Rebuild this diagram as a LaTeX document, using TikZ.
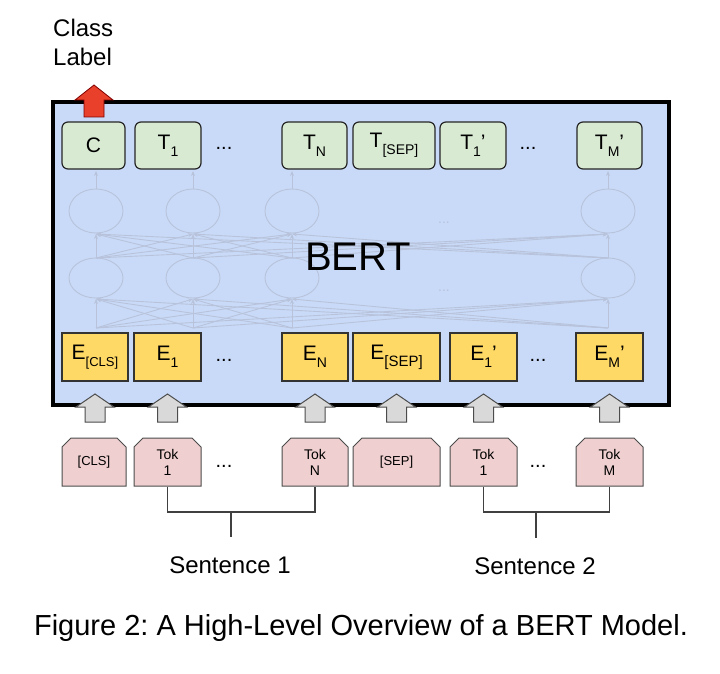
\documentclass[tikz,border=0pt]{standalone}
\usepackage{fontspec}
\setmainfont{Liberation Sans}
\usetikzlibrary{shapes.misc,arrows.meta}
\definecolor{bertblue}{HTML}{C9DAF8}
\definecolor{tgreen}{HTML}{D9EAD3}
\definecolor{eyellow}{HTML}{FFD966}
\definecolor{tokpink}{HTML}{EFCFCF}
\definecolor{netc}{HTML}{B8C3DB}
\definecolor{redarrow}{HTML}{E8402A}
\definecolor{grayfill}{HTML}{D9D9D9}
\frenchspacing
\newcommand\lowsub[2][14]{\raisebox{-7pt}{\fontsize{#1}{#1}\selectfont #2}}
\newcommand\grayup[1]{\draw[grayarrow] (#1-10,422) -- (#1-10,407) -- (#1-19,407) -- (#1,394) -- (#1+19,407) -- (#1+10,407) -- (#1+10,422) -- cycle;}
\begin{document}
\begin{tikzpicture}[x=1pt,y=-1pt,
  tbox/.style={draw=black!85, line width=1.2pt, rounded corners=6pt, fill=tgreen, minimum height=47pt, inner sep=0pt, font=\fontsize{21}{24}\selectfont},
  ebox/.style={draw=black!80, line width=1.1pt, fill=eyellow, minimum height=48pt, inner sep=0pt, font=\fontsize{21}{24}\selectfont},
  tokbox/.style={chamfered rectangle, chamfered rectangle corners={north west,north east}, chamfered rectangle xsep=4.5pt, chamfered rectangle ysep=4.5pt, draw=black!70, line width=1pt, fill=tokpink, minimum height=48pt, inner sep=0pt, align=center, font=\fontsize{14}{16}\selectfont},
  dots/.style={font=\fontsize{20}{20}\selectfont, inner sep=0pt},
  netline/.style={draw=netc, line width=0.9pt},
  netarrow/.style={netline, -{Stealth[length=5pt,width=4pt]}},
  grayarrow/.style={fill=grayfill, draw=black!70, line width=1pt},
  bracket/.style={draw=black!75, line width=1.2pt},
  lbl/.style={font=\fontsize{24}{29}\selectfont, inner sep=0pt}
]
\useasboundingbox (0,0) rectangle (720,674);

% main BERT box
\draw[line width=4pt, fill=bertblue] (53,102) rectangle (669,405);

% faded network
\foreach \i in {96,193,292,608} {
  \draw[netline] (\i,278) ellipse [x radius=27, y radius=20];
  \draw[netline] (\i,211) ellipse [x radius=27, y radius=22];
  \draw[netarrow] (\i,189) -- (\i,171);
  \foreach \j in {96,193,292,608} {
    \draw[netarrow] (\i,328) -- (\j,299);
    \draw[netarrow] (\i,258) -- (\j,234);
  }
}
\node[font=\fontsize{14}{14}\selectfont, text=netc] (nd1) at (444,223) {...};
\node[font=\fontsize{14}{14}\selectfont, text=netc] (nd2) at (444,291) {...};

\node[font=\fontsize{40}{40}\selectfont, inner sep=0pt] (bert) at (358,257) {BERT};

% red class-label arrow
\draw[fill=redarrow, draw=red!50!black, line width=0.8pt] (84,117) -- (84,100) -- (75,100) -- (94,85) -- (113,100) -- (104,100) -- (104,117) -- cycle;
\node[lbl, align=left, anchor=north west] (cls) at (53,19) {Class\\Label};

% top output row
\node[tbox, minimum width=63pt] (c) at (93.5,145.5) {C};
\node[tbox, minimum width=66pt] (t1) at (168,145.5) {T\lowsub{1}};
\node[dots] (td1) at (224,148) {...};
\node[tbox, minimum width=65pt] (tn) at (314.5,145.5) {T\lowsub{N}};
\node[tbox, minimum width=82pt] (tsep) at (394,145.5) {T\lowsub{[SEP]}};
\node[tbox, minimum width=66pt] (t1p) at (473,145.5) {T\lowsub{1}'};
\node[dots] (td2) at (528,148) {...};
\node[tbox, minimum width=65pt] (tmp) at (609.5,145.5) {T\lowsub{M}'};

% embedding row
\node[ebox, minimum width=66pt] (ecls) at (95,357) {E\lowsub[13]{[CLS]}};
\node[ebox, minimum width=67pt] (e1) at (167.5,357) {E\lowsub{1}};
\node[dots] (ed1) at (224,360) {...};
\node[ebox, minimum width=66pt] (en) at (315,357) {E\lowsub{N}};
\node[ebox, minimum width=87pt] (esep) at (396.5,357) {E\lowsub[15]{[SEP]}};
\node[ebox, minimum width=67pt] (e1p) at (483.5,357) {E\lowsub{1}'};
\node[dots] (ed2) at (538,360) {...};
\node[ebox, minimum width=67pt] (emp) at (609.5,357) {E\lowsub{M}'};

% gray input arrows
\grayup{95}
\grayup{167.5}
\grayup{315}
\grayup{396.5}
\grayup{483.5}
\grayup{609.5}

% token row
\node[tokbox, minimum width=64pt, font=\fontsize{13}{16}\selectfont] (tcls) at (94,462) {[CLS]};
\node[tokbox, minimum width=67pt] (tok1) at (167.5,462) {Tok\\1};
\node[dots] (kd1) at (224,466) {...};
\node[tokbox, minimum width=66pt] (tokn) at (315,462) {Tok\\N};
\node[tokbox, minimum width=87pt, font=\fontsize{13}{16}\selectfont] (tsepk) at (396.5,462) {[SEP]};
\node[tokbox, minimum width=67pt] (tok1p) at (483.5,462) {Tok\\1};
\node[dots] (kd2) at (538,466) {...};
\node[tokbox, minimum width=67pt] (tokm) at (609.5,462) {Tok\\M};

% sentence brackets
\coordinate (s1) at (231,512);
\coordinate (s1b) at (231,537);
\coordinate (s2) at (536,512);
\coordinate (s2b) at (536,538);
\draw[bracket] (tok1.south) |- (s1) -| (tokn.south);
\draw[bracket] (s1) -- (s1b);
\draw[bracket] (tok1p.south) |- (s2) -| (tokm.south);
\draw[bracket] (s2) -- (s2b);
\node[lbl] (sent1) at (230,565) {Sentence 1};
\node[lbl] (sent2) at (535,566) {Sentence 2};

% caption
\node[font=\fontsize{29}{32}\selectfont, inner sep=0pt] (cap) at (361,628) {Figure 2: A High-Level Overview of a BERT Model.};
\end{tikzpicture}
\end{document}
